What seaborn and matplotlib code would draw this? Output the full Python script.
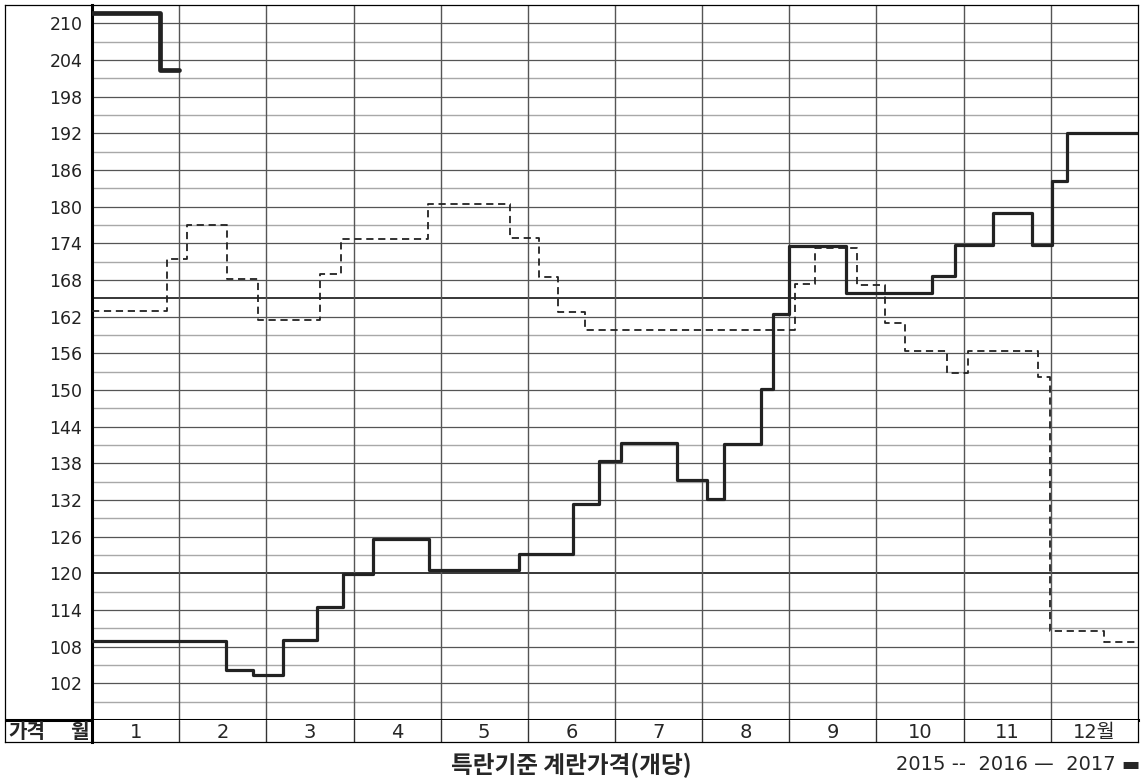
import numpy as np
import pandas as pd
import matplotlib.pyplot as plt
import seaborn as sns

sns.set_style("white")
plt.rcParams['font.family'] = ['DejaVu Sans', 'Noto Sans CJK KR']

# step start positions in months (0 = start of Jan, 12 = end of Dec) and egg price (won per egg)
x_2015 = [0, 0.864, 1.086, 1.552, 1.908, 2.616, 2.853, 3.851, 4.795, 5.132, 5.349, 5.656,
          8.065, 8.294, 8.782, 9.097, 9.327, 9.805, 10.053, 10.856, 10.990, 11.613, 12]
p_2015 = [163.0, 171.4, 177.0, 168.1, 161.4, 169.0, 174.7, 180.5, 174.8, 168.5, 162.8, 159.8,
          167.3, 173.3, 167.2, 161.0, 156.4, 152.8, 156.4, 152.2, 110.6, 108.7, 108.7]

x_2016 = [0, 1.543, 1.847, 2.195, 2.578, 2.883, 3.220, 3.870, 4.902, 5.514, 5.820, 6.065, 6.715,
          7.059, 7.254, 7.675, 7.809, 8.0, 8.650, 9.633, 9.900, 10.340, 10.780, 11.010, 11.189, 12]
p_2016 = [109.0, 104.2, 103.4, 109.1, 114.5, 119.9, 125.7, 120.6, 123.1, 131.3, 138.3, 141.4, 135.3,
          132.1, 141.2, 150.2, 162.4, 173.5, 165.8, 168.6, 173.8, 179.0, 173.8, 184.2, 192.0, 192.0]

x_2017 = [0, 0.78, 1.0]
p_2017 = [211.7, 202.3, 202.3]

months = ["1", "2", "3", "4", "5", "6", "7", "8", "9", "10", "11", "12월"]
y_labels = list(range(102, 211, 6))

W, H = 1144, 782


def box(x0, y0, x1, y1):
    return [x0 / W, 1 - y1 / H, (x1 - x0) / W, (y1 - y0) / H]


fig = plt.figure(figsize=(W / 100, H / 100), dpi=100)

# left label column (frame only)
axl = fig.add_axes(box(5, 5, 92, 742))
axl.set_xlim(5, 92)
axl.set_ylim(742, 5)
axl.patch.set_visible(False)
axl.set_xticks([])
axl.set_yticks([])
for s in axl.spines.values():
    s.set_linewidth(0.9)
    s.set_color("black")
axl.axhline(720, color="black", lw=2.2)
axl.text(8, 731, "가격", ha="left", va="center", fontsize=14.5, weight="bold",
         family=['Noto Sans CJK KR'])
axl.text(89, 731, "월", ha="right", va="center", fontsize=14.5, weight="bold",
         family=['Noto Sans CJK KR'])

# main plot
ax = fig.add_axes(box(92, 5, 1138, 720))
ax.set_xlim(0, 12)
ax.set_ylim(96, 213)
for v in range(99, 213, 3):
    if v in (120, 165):
        ax.axhline(v, color="black", lw=1.1, zorder=1)
    elif v % 6 == 0:
        ax.axhline(v, color="#555555", lw=0.9, zorder=1)
    else:
        ax.axhline(v, color="#a8a8a8", lw=1.0, zorder=1)
for m in range(1, 12):
    ax.axvline(m, color="#555555", lw=1.0, zorder=1)

sns.lineplot(x=x_2015, y=p_2015, ax=ax, drawstyle="steps-post", color="#222222",
             lw=1.3, linestyle=(0, (4, 2.6)), zorder=3)
sns.lineplot(x=x_2016, y=p_2016, ax=ax, drawstyle="steps-post", color="#222222",
             lw=2.3, zorder=4)
sns.lineplot(x=x_2017, y=p_2017, ax=ax, drawstyle="steps-post", color="#222222",
             lw=3.4, zorder=5)

ax.set_xticks([])
ax.set_yticks(y_labels)
ax.set_yticklabels([str(v) for v in y_labels], fontsize=12.5, color="#222222")
ax.tick_params(axis="y", length=0, pad=7)
ax.set_xlabel("")
ax.set_ylabel("")
for name, s in ax.spines.items():
    s.set_color("black")
    s.set_linewidth(0.9)
ax.spines["left"].set_linewidth(2.2)
ax.spines["bottom"].set_linewidth(2.2)

# month row
axm = fig.add_axes(box(92, 720, 1138, 742))
axm.set_xlim(0, 12)
axm.set_ylim(0, 1)
axm.set_xticks([])
axm.set_yticks([])
for m in range(1, 12):
    axm.axvline(m, color="#333333", lw=1.0)
for i, lab in enumerate(months):
    axm.text(i + 0.5, 0.42, lab, ha="center", va="center", fontsize=14)
for s in axm.spines.values():
    s.set_color("black")
    s.set_linewidth(0.9)
axm.spines["top"].set_visible(False)
axm.spines["left"].set_linewidth(2.2)

fig.text(571 / W, 1 - 765 / H, "특란기준 계란가격(개당)", ha="center", va="center",
         fontsize=17, weight="bold", family=['Noto Sans CJK KR'])
fig.text(1140 / W, 1 - 764 / H, "2015 --  2016 —  2017 ▬", ha="right", va="center",
         fontsize=14, family=['DejaVu Sans'])

fig.savefig("out.png", dpi=100)
